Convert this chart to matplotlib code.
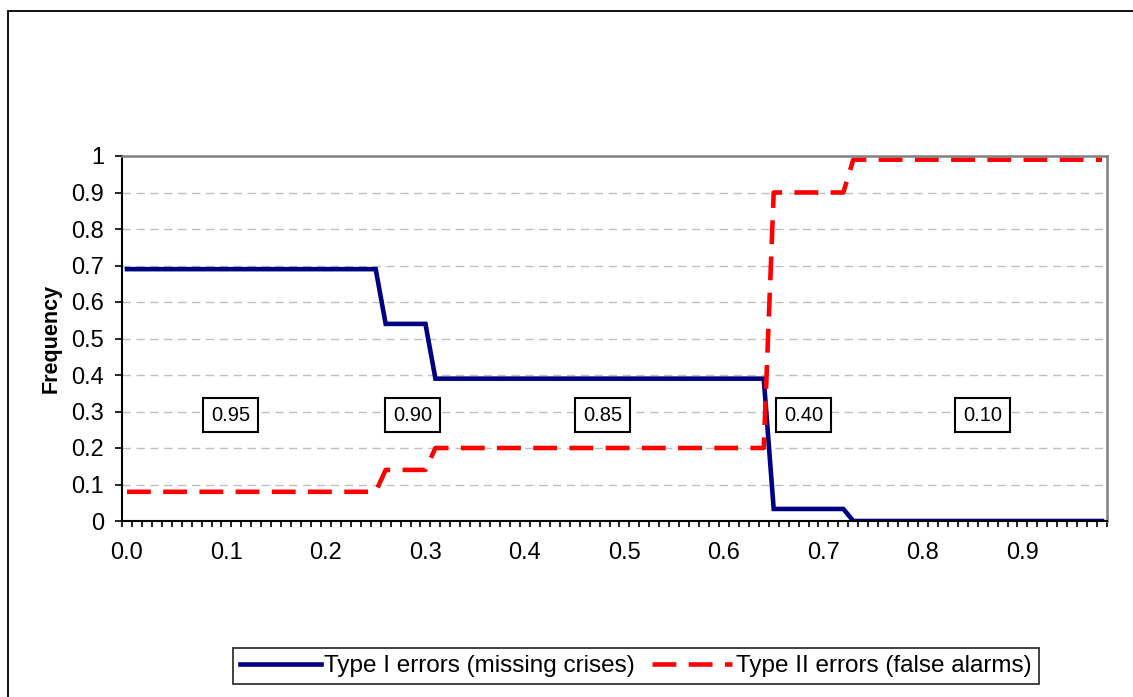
import matplotlib.pyplot as plt
import numpy as np
from matplotlib.patches import Rectangle

plt.rcParams['font.family'] = ['Liberation Sans', 'DejaVu Sans']

# categories 0.00 ... 0.98
thresholds = [round(i * 0.01, 2) for i in range(99)]
tick_labels = ['0.0', '0.1', '0.2', '0.3', '0.4', '0.5', '0.6', '0.7', '0.8', '0.9']

# step values (value, number of categories)
type1_steps = [(0.69, 26), (0.54, 5), (0.39, 34), (0.033, 8), (0.0, 26)]
type2_steps = [(0.08, 26), (0.14, 5), (0.20, 34), (0.90, 8), (0.99, 26)]
type1 = [v for v, n in type1_steps for _ in range(n)]
type2 = [v for v, n in type2_steps for _ in range(n)]

# region labels (category position, text)
box_pos = [10.4, 28.7, 47.8, 68.0, 86.0]
box_text = ['0.95', '0.90', '0.85', '0.40', '0.10']
box_y = 0.29

W, H = 1133, 697
fig = plt.figure(figsize=(W / 100, H / 100), dpi=100)
fig.patch.set_facecolor('white')

# outer chart border
fig.patches.append(Rectangle((7.5 / W, 0 - 0.01), 1.02, 1 - 10.5 / H + 0.01,
                             transform=fig.transFigure, fill=False,
                             edgecolor='black', linewidth=1.3))

ax = fig.add_axes([122 / W, 1 - 521 / H, 985 / W, 365 / H])
x = np.arange(len(thresholds))

l1, = ax.plot(x, type1, color='#000080', linewidth=3.3, solid_joinstyle='miter',
              label='Type I errors (missing crises)')
l2, = ax.plot(x, type2, color='#FF0000', linewidth=3.3, dashes=(5.2, 2.7),
              label='Type II errors (false alarms)')

for p, t in zip(box_pos, box_text):
    ax.text(p, box_y, t, ha='center', va='center', fontsize=14.5,
            bbox=dict(boxstyle='square,pad=0.38', facecolor='white',
                      edgecolor='black', linewidth=1.5))

ax.set_xlim(-0.5, len(thresholds) - 0.5)
ax.set_ylim(0, 1)
ax.set_yticks(np.arange(0, 1.01, 0.1))
ax.set_yticklabels(['0', '0.1', '0.2', '0.3', '0.4', '0.5', '0.6', '0.7', '0.8', '0.9', '1'])
ax.set_xticks(np.arange(0, 99, 10))
ax.set_xticklabels(tick_labels)
ax.set_xticks(np.arange(-0.5, len(thresholds)), minor=True)
ax.tick_params(axis='x', which='major', length=0, pad=15, labelsize=17)
ax.tick_params(axis='x', which='minor', length=4.5, width=1.2, direction='out')
ax.tick_params(axis='y', which='major', length=5, width=1.2, pad=8, labelsize=17)

for yv in np.arange(0.1, 0.95, 0.1):
    ax.axhline(yv, color='#c0c0c0', linewidth=1.0, dashes=(6, 4), zorder=0)

ax.spines['left'].set_color('black')
ax.spines['bottom'].set_color('black')
ax.spines['left'].set_linewidth(1.5)
ax.spines['bottom'].set_linewidth(1.5)
ax.spines['top'].set_color('#808080')
ax.spines['right'].set_color('#808080')
ax.spines['top'].set_linewidth(1.8)
ax.spines['right'].set_linewidth(1.8)

ax.set_ylabel('Frequency', fontsize=15.5, fontweight='bold', labelpad=7)

leg = fig.legend(handles=[l1, l2], loc='center', ncol=2,
                 bbox_to_anchor=(636 / W, 1 - 666 / H), fontsize=17.5,
                 frameon=True, fancybox=False, handlelength=3.3,
                 handletextpad=0.15, columnspacing=0.7, borderpad=0.3)
leg.get_frame().set_edgecolor('black')
leg.get_frame().set_linewidth(1.3)

fig.savefig('out.png', dpi=100)
